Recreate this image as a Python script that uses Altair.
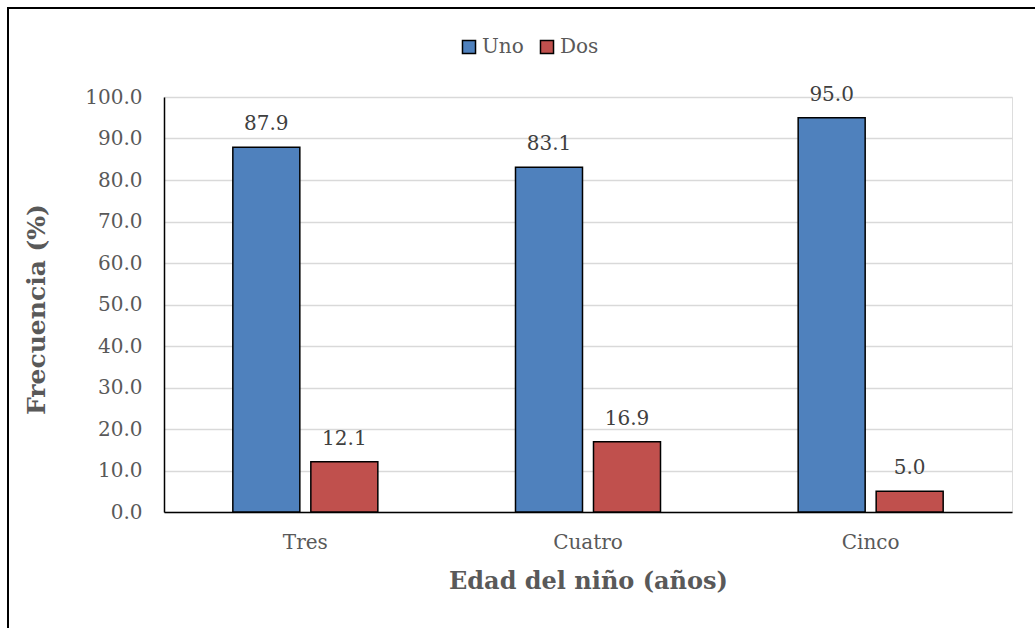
import altair as alt
import pandas as pd

categories = ["Tres", "Cuatro", "Cinco"]
series = ["Uno", "Dos"]
uno = [87.9, 83.1, 95.0]
dos = [12.1, 16.9, 5.0]

rows = []
for c, u, d in zip(categories, uno, dos):
    rows.append({"edad": c, "serie": "Uno", "valor": u})
    rows.append({"edad": c, "serie": "Dos", "valor": d})
df = pd.DataFrame(rows)

FONT = "DejaVu Serif"
GRAY = "#595959"

x = alt.X("edad:N", sort=categories,
          scale=alt.Scale(paddingInner=0.487, paddingOuter=0.2435),
          axis=alt.Axis(title="Edad del niño (años)", labelAngle=0, ticks=False,
                        labelPadding=20, labelFontSize=20, labelColor=GRAY, labelFont=FONT,
                        titleFont=FONT, titleFontSize=24, titleFontWeight="bold", titleColor=GRAY,
                        titleY=69, titleBaseline="middle",
                        domainColor="black", domainWidth=1.5, grid=False))
xo = alt.XOffset("serie:N", sort=series, scale=alt.Scale(paddingInner=0.141, paddingOuter=0))
y = alt.Y("valor:Q", scale=alt.Scale(domain=[0, 100]),
          axis=alt.Axis(title="Frecuencia (%)", values=list(range(0, 101, 10)), format=".1f",
                        ticks=False, labelPadding=22, labelFontSize=20, labelColor=GRAY, labelFont=FONT,
                        titleFont=FONT, titleFontSize=25, titleFontWeight="bold", titleColor=GRAY,
                        titleX=-128, titleY=212, titleAngle=-90, titleBaseline="middle", titleAlign="center",
                        domainColor="black", domainWidth=1.5, gridColor="#d9d9d9", gridWidth=1.5))
color = alt.Color("serie:N", sort=series,
                  scale=alt.Scale(domain=series, range=["#4F81BD", "#C0504D"]),
                  legend=alt.Legend(title=None, orient="none", direction="horizontal",
                                    legendX=295, legendY=-60, symbolType="square", symbolSize=170,
                                    symbolStrokeColor="black", symbolStrokeWidth=1.5,
                                    labelFontSize=20, labelFont=FONT, labelColor=GRAY,
                                    columnPadding=13, labelOffset=3))

bars = alt.Chart(df).mark_bar(stroke="black", strokeWidth=1.5).encode(
    x=x, xOffset=xo, y=y, color=color)

labels = alt.Chart(df).mark_text(baseline="bottom", dy=-13, fontSize=20, font=FONT, color="#404040").encode(
    x=x, xOffset=xo, y=y, text=alt.Text("valor:Q", format=".1f"))

border = alt.Chart(pd.DataFrame({"a": [0]})).mark_rule(color="black", strokeWidth=2).encode(
    x=alt.value(-156), x2=alt.value(900), y=alt.value(-89))
border_left = alt.Chart(pd.DataFrame({"a": [0]})).mark_rule(color="black", strokeWidth=2).encode(
    x=alt.value(-156), y=alt.value(-90), y2=alt.value(560))

chart = alt.layer(border, border_left, bars, labels).properties(
    width=848, height=415,
    autosize=alt.AutoSizeParams(type="none"),
    padding={"left": 164, "top": 97, "right": 23, "bottom": 116},
).configure_view(stroke=None).configure(background="white")

chart.save("out.html", embed_options={"renderer": "svg", "actions": False})
